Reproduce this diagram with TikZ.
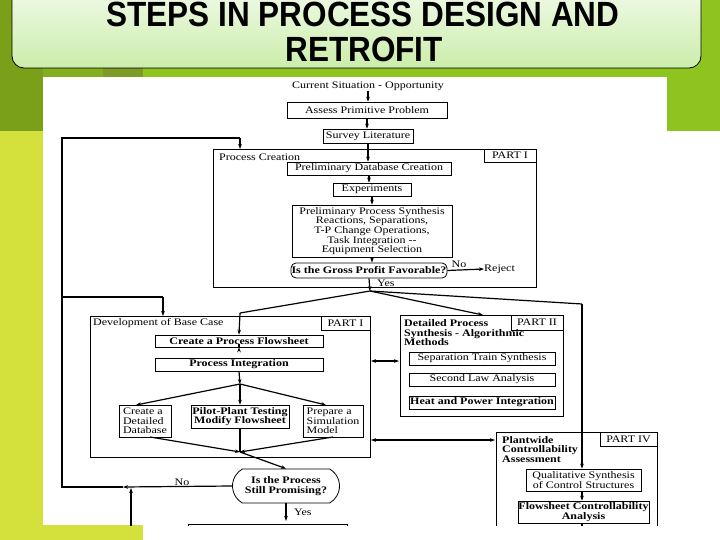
\documentclass[tikz,border=0pt]{standalone}
\usepackage{fontspec}
\usetikzlibrary{arrows.meta,shapes.misc}
\newfontfamily\scan[FakeStretch=1.2]{Liberation Serif}
\newfontfamily\titlefont[FakeStretch=0.9]{Liberation Sans}
\newcommand\scf{\scan\fontsize{10}{9.6}\selectfont}
\definecolor{topgreen}{HTML}{8EC41F}
\definecolor{olivec}{HTML}{7A9F18}
\definecolor{olivetwo}{HTML}{84AE1F}
\definecolor{darkol}{HTML}{7E9A27}
\definecolor{yel}{HTML}{D4E03B}
\definecolor{bannertop}{HTML}{F4FBEF}
\definecolor{bannerbot}{HTML}{CBEDAA}
\begin{document}
\begin{tikzpicture}[x=1pt,y=-1pt,
  box/.style={draw, line width=0.7pt, inner sep=0.5pt, align=center, font=\scf},
  bbox/.style={box, font=\scf\bfseries},
  frame/.style={draw, line width=0.8pt},
  txt/.style={inner sep=0pt, font=\scf},
  ln/.style={line width=1.2pt},
  arr/.style={line width=1.2pt, -{Stealth[length=5pt,width=3.6pt]}},
  darr/.style={line width=1.2pt, {Stealth[length=5pt,width=3.6pt]}-{Stealth[length=5pt,width=3.6pt]}},
  decision/.style={draw, line width=0.8pt, rounded rectangle, rounded rectangle arc length=110, inner sep=0.5pt, align=center, font=\scf\bfseries}]
\useasboundingbox (0,0) rectangle (720,540);
\clip (0,0) rectangle (720,540);
% background
\fill[white] (0,0) rectangle (720,540);
\fill[topgreen] (0,0) rectangle (720,77);
\fill[topgreen] (667,0) rectangle (720,131);
\fill[olivetwo] (43,0) rectangle (103,77);
\fill[darkol] (103,0) rectangle (143,77);
\fill[olivec] (0,0) rectangle (43,131);
\fill[yel] (0,131) rectangle (43,540);
\fill[yel] (0,525) rectangle (143,540);
% banner
\draw[line width=0.8pt, rounded corners=12pt, top color=bannertop, bottom color=bannerbot] (12,-20) rectangle (701,68);
\node[anchor=base, inner sep=0pt, font=\titlefont\bfseries\fontsize{35}{36}\selectfont] (title1) at (363,27) {STEPS IN PROCESS DESIGN AND};
\node[anchor=base, inner sep=0pt, font=\titlefont\bfseries\fontsize{35}{36}\selectfont] (title2) at (364,62) {RETROFIT};
% diagram
\begin{scope}
\clip (43,77) rectangle (667,525);
% PART I process creation
\draw[frame] (213,149) rectangle (536,287);
\node[box, minimum width=52pt, minimum height=13pt] (p1a) at (510,155.5) {PART I};
\node[txt, anchor=west] (pcre) at (219,157) {Process Creation};
\node[txt] (cur) at (368,86) {Current Situation - Opportunity};
\node[box, minimum width=160pt, minimum height=16pt] (assess) at (367,110) {Assess Primitive Problem};
\node[box, minimum width=90pt, minimum height=14pt] (survey) at (368,136) {Survey Literature};
\node[box, minimum width=164pt, minimum height=13pt] (pdc) at (369,168.5) {Preliminary Database Creation};
\node[box, minimum width=78pt, minimum height=13pt] (exp) at (372,189.5) {Experiments};
\node[box, minimum width=160pt, minimum height=52pt] (pps) at (372,231) {Preliminary Process Synthesis\\Reactions, Separations,\\T-P Change Operations,\\Task Integration --\\Equipment Selection};
\node[draw, line width=0.8pt, rounded corners=5pt, inner sep=0.5pt, font=\scf\bfseries, minimum width=156pt, minimum height=15pt] (gross) at (369,270.5) {Is the Gross Profit Favorable?};
\node[txt, anchor=west] (reject) at (484,269) {Reject};
\node[txt] (nolbl) at (459,264) {No};
\node[txt, anchor=west] (yeslbl) at (377,283) {Yes};
\draw[arr] (cur.south) -- (cur.south |- assess.north);
\draw[arr] (assess.south) -- (assess.south |- survey.north);
\draw[arr] (survey.south) -- (survey.south |- pdc.north);
\draw[arr] (pdc.south) -- (pdc.south |- exp.north);
\draw[arr] (exp.south) -- (exp.south |- pps.north);
\draw[arr] (pps.south) -- (pps.south |- gross.north);
\draw[arr] (gross.east) -- (reject.west);
\coordinate (J) at (370,291);
\draw[arr] (gross.south) -- (J);
% PART I base case
\draw[frame] (90,316) rectangle (370,457);
\node[box, minimum width=49pt, minimum height=14pt] (p1b) at (345.5,323) {PART I};
\node[txt, anchor=west] (dev) at (93,323) {Development of Base Case};
\node[bbox, minimum width=168pt, minimum height=12pt] (create) at (239,341) {Create a Process Flowsheet};
\node[bbox, minimum width=168pt, minimum height=13pt] (integ) at (239,364.5) {Process Integration};
\node[box, minimum width=52pt, minimum height=32pt, align=left] (db) at (145,421) {Create a\\Detailed\\Database};
\node[bbox, minimum width=98pt, minimum height=23pt] (pilot) at (240,416.5) {Pilot-Plant Testing\\Modify Flowsheet};
\node[box, minimum width=60pt, minimum height=32pt, align=left] (prep) at (333,421) {Prepare a\\Simulation\\Model};
\coordinate (Ja) at (240,313);
\draw[ln] (J) -- (Ja);
\draw[arr] (Ja) -- (create.north);
\draw[arr] (create.south) -- (create.south -| integ.south);
\coordinate (K) at (240,384);
\draw[arr] (integ.south) -- (K);
\draw[arr] (K) -- (136,405);
\draw[arr] (K) -- (pilot.north);
\draw[arr] (K) -- (326,405);
\coordinate (L) at (240,452);
\draw[arr] (150,437) -- (L);
\draw[arr] (333,437) -- (L);
\draw[ln] (pilot.south) -- (L);
\node[decision, rounded rectangle arc length=120, minimum width=108pt, minimum height=34pt] (dec) at (286,486) {Is the Process\\Still Promising?};
\draw[arr] (L) -- (dec.north);
\coordinate (ybot) at (286,521);
\draw[arr] (dec.south) -- (ybot);
\node[txt, anchor=west] (yes2) at (294,512) {Yes};
\node[txt] (no2) at (182,482) {No};
\draw[frame] (188,524) rectangle (347,560);
% loops
\coordinate (A1) at (123,487);
\coordinate (A2) at (62,487);
\coordinate (A3) at (62,138);
\coordinate (A4) at (240,138);
\coordinate (A5) at (62,297);
\coordinate (A6) at (163,297);
\draw[arr] (dec.west) -- (A1);
\draw[ln] (A1) -- (A2) -- (A3) -- (A4);
\draw[arr] (A4) -- (240,149);
\draw[ln] (A5) -- (A6);
\draw[arr] (A6) -- (163,316);
\coordinate (U) at (131,530);
\draw[arr] (U) -- (131,488);
% PART II
\draw[frame] (400,315) rectangle (563,416);
\node[box, minimum width=52pt, minimum height=15pt] (p2) at (537,322.5) {PART II};
\node[txt, anchor=north west, align=left, font=\scf\bfseries] (dps) at (404,319.5) {Detailed Process\\Synthesis - Algorithmic\\Methods};
\node[box, minimum width=146pt, minimum height=13pt] (sep) at (482,358.5) {Separation Train Synthesis};
\node[box, minimum width=146pt, minimum height=13pt] (law) at (482,379.5) {Second Law Analysis};
\node[bbox, minimum width=146pt, minimum height=13pt] (heat) at (482,402.5) {Heat and Power Integration};
\draw[arr] (J) -- (483,315);
\draw[darr] (371,361) -- (399,361);
% PART IV
\draw[frame] (496,432) rectangle (657,560);
\node[box, minimum width=57pt, minimum height=14pt] (p4) at (628.5,439) {PART IV};
\node[txt, anchor=north west, align=left, font=\scf\bfseries] (pca) at (502,436) {Plantwide\\Controllability\\Assessment};
\node[box, minimum width=115pt, minimum height=22pt] (qual) at (583.5,480) {Qualitative Synthesis\\of Control Structures};
\node[bbox, minimum width=131pt, minimum height=22pt] (flow) at (583.5,512) {Flowsheet Controllability\\Analysis};
\coordinate (Jr) at (582,304);
\draw[ln] (J) -- (Jr);
\draw[arr] (Jr) -- (Jr |- qual.north);
\draw[arr] (qual.south -| Jr) -- (flow.north -| Jr);
\draw[ln] (flow.south -| Jr) -- (582,530);
\draw[darr] (371,440) -- (495,440);
\end{scope}
\end{tikzpicture}
\end{document}
